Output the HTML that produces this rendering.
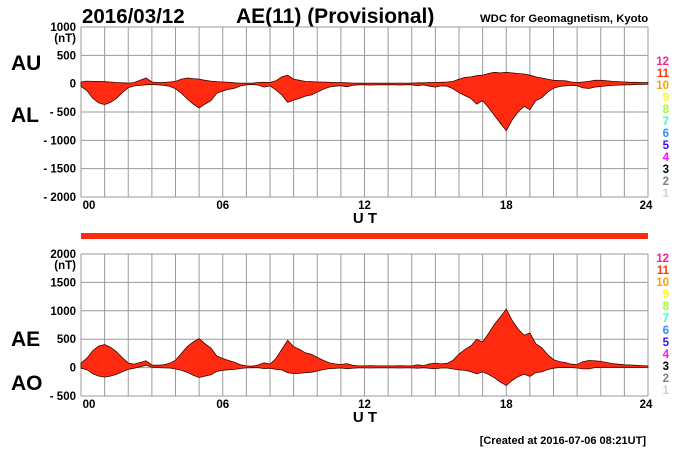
<!DOCTYPE html>
<html><head><meta charset="utf-8"><style>
body{margin:0;background:#fff}
svg{display:block;font-family:"Liberation Sans",Arial,sans-serif;font-weight:bold}
</style></head><body>
<svg id="c" width="700" height="450" viewBox="0 0 700 450">
<text x="82" y="23" font-size="20.5">2016/03/12</text>
<text x="236" y="23" font-size="21">AE(11) (Provisional)</text>
<text x="480" y="22" font-size="11.3" style="font-weight:600">WDC for Geomagnetism, Kyoto</text>
<rect x="81" y="233" width="567" height="6" fill="#ff2a10"/>
<text x="646" y="444" font-size="11" text-anchor="end" style="font-weight:600">[Created at 2016-07-06 08:21UT]</text>
<g id="top"></g><g id="bot"></g>
</svg>
<script>
const hours = Array.from({length:97},(_,i)=>i/4);
const AL = [-50,-120,-260,-340,-370,-330,-260,-160,-70,-40,-30,-20,-15,-20,-30,-45,-90,-170,-270,-360,-430,-360,-300,-170,-130,-100,-80,-40,-20,-15,-25,-60,-40,-110,-200,-330,-290,-260,-220,-200,-150,-100,-60,-45,-35,-55,-30,-20,-20,-25,-20,-20,-20,-20,-25,-20,-20,-35,-20,-45,-60,-40,-45,-90,-160,-210,-260,-360,-300,-420,-560,-700,-830,-640,-500,-400,-460,-300,-250,-150,-80,-50,-40,-30,-35,-75,-85,-60,-50,-40,-30,-25,-20,-20,-15,-15,-10];
const AU = [30,45,40,40,35,30,20,15,10,20,60,100,30,20,20,30,40,80,100,90,80,60,45,35,30,25,15,10,10,10,20,25,20,50,120,150,80,60,40,35,30,30,25,20,20,15,10,10,10,10,10,10,10,10,10,10,10,15,15,20,20,25,30,40,80,110,120,140,150,180,200,190,200,190,180,170,150,120,100,80,60,55,50,30,20,30,40,60,60,50,40,35,30,25,25,20,20];
const xTicks = ["00","06","12","18","24"];
const topTicks = [1000,500,0,-500,-1000,-1500,-2000];
const botTicks = [2000,1500,1000,500,0,-500];
const legendNums = [12,11,10,9,8,7,6,5,4,3,2,1];
const legendCols = ["#ff1f8f","#ff3a10","#ffa000","#ffff00","#9cff30","#30ffd0","#2f90ff","#3010ff","#ff10ff","#000","#808080","#d0d0d0"];
const NS="http://www.w3.org/2000/svg";
function el(p,t,a){const e=document.createElementNS(NS,t);for(const k in a)e.setAttribute(k,a[k]);p.appendChild(e);return e;}
const X0=81,X1=648;
const xs=h=>X0+(X1-X0)*h/24;
function panel(g,top,bottom,vmax,vmin,ticks,hi,lo,labHi,labLo,labHiY,labLoY,name){
  const ys=v=>top+(bottom-top)*(vmax-v)/(vmax-vmin);
  for(let h=0;h<=24;h++){const l=el(g,'line',{x1:xs(h),x2:xs(h),y1:top,y2:bottom,stroke:'#9a9a9a','stroke-width':1});
    }
  ticks.forEach(v=>{const l=el(g,'line',{x1:X0,x2:X1,y1:ys(v),y2:ys(v),stroke:'#9a9a9a','stroke-width':1});
    
    const t=el(g,'text',{x:76,y:ys(v)+4,'font-size':11.5,'text-anchor':'end'});
    t.textContent=v<0?'- '+(-v):String(v);
    });
  const u=el(g,'text',{x:76,y:top+15,'font-size':11.5,'text-anchor':'end'});u.textContent='(nT)';
  
  let d='M'+hours.map((h,i)=>xs(h).toFixed(1)+','+ys(hi[i]).toFixed(1)).join('L');
  for(let i=hours.length-1;i>=0;i--)d+='L'+xs(hours[i]).toFixed(1)+','+ys(lo[i]).toFixed(1);
  const p=el(g,'path',{d:d+'Z',fill:'#ff2a10',stroke:'#3a0800','stroke-width':0.8});
  
  xTicks.forEach((s,i)=>{const t=el(g,'text',{x:xs(i*6)+(i==0?8:i==4?-2:0),y:bottom+12,'font-size':11.5,'text-anchor':'middle'});t.textContent=s;
    });
  const ut=el(g,'text',{x:365,y:bottom+26,'font-size':15,'text-anchor':'middle'});ut.textContent='U T';
  
  const a=el(g,'text',{x:11,y:labHiY,'font-size':21});a.textContent=labHi;
  
  const b=el(g,'text',{x:11,y:labLoY,'font-size':21});b.textContent=labLo;
  
  return ys;
}
function legend(g,y0){legendNums.forEach((n,i)=>{const t=el(g,'text',{x:669,y:y0+i*12,'font-size':11.5,'text-anchor':'end',fill:legendCols[i]});t.textContent=n;
  });}
const AE=AU.map((u,i)=>u-AL[i]), AO=AU.map((u,i)=>(u+AL[i])/2);
panel(document.getElementById('top'),27,197,1000,-2000,topTicks,AU,AL,'AU','AL',70,122,'au-al');
panel(document.getElementById('bot'),254,396,2000,-500,botTicks,AE,AO,'AE','AO',346,390,'ae-ao');
legend(document.getElementById('top'),65);
legend(document.getElementById('bot'),262);
</script>
</body></html>
